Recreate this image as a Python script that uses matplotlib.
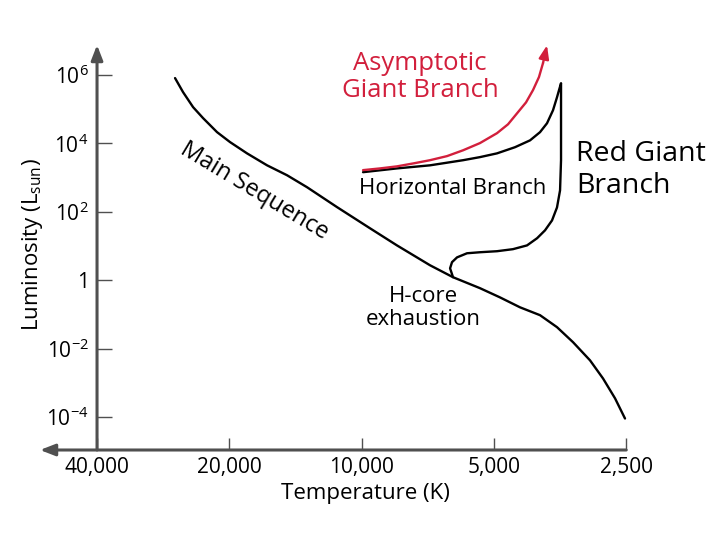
import numpy as np
import matplotlib
matplotlib.use("Agg")
import matplotlib.pyplot as plt

plt.rcParams['font.family'] = ['Open Sans', 'DejaVu Sans']
plt.rcParams['mathtext.fontset'] = 'custom'
plt.rcParams['mathtext.rm'] = 'Open Sans'
plt.rcParams['mathtext.it'] = 'Open Sans'

RED = '#d21f3c'
AXIS = '#505050'

# temperature ticks (K) and luminosity ticks (L_sun, as powers of ten)
temp_ticks = [40000, 20000, 10000, 5000, 2500]
temp_labels = ['40,000', '20,000', '10,000', '5,000', '2,500']
lum_exp = [6, 4, 2, 0, -2, -4]
lum_labels = ['10$^{6}$', '10$^{4}$', '10$^{2}$', '1', '10$^{-2}$', '10$^{-4}$']

# main sequence
ms_temp = [26580, 25490, 24180, 22950, 21330, 19930, 18230, 16410, 14780, 13310,
           11380, 9570, 8310, 6990, 6195, 5380, 4843, 4361, 3927, 3593,
           3303, 3022, 2823, 2651, 2516]
ms_loglum = [5.91, 5.50, 5.06, 4.74, 4.33, 4.04, 3.71, 3.36, 3.07, 2.72,
             2.14, 1.52, 1.02, 0.44, 0.09, -0.23, -0.50, -0.79, -1.02, -1.37,
             -1.81, -2.34, -2.87, -3.45, -4.04]

# hook, red giant branch and horizontal branch
gb_temp = [6195, 6292, 6228, 6066, 5757, 5380, 4920, 4525, 4204, 3988, 3826,
           3688, 3593, 3536, 3518, 3518, 3518, 3518,
           3555, 3593, 3669, 3786, 3927, 4138, 4477, 4920, 5380, 5877, 6990,
           8310, 9926]
gb_loglum = [0.09, 0.35, 0.53, 0.67, 0.79, 0.82, 0.85, 0.91, 1.02, 1.23, 1.46,
             1.75, 2.13, 2.63, 3.51, 4.39, 5.26, 5.76,
             5.56, 5.35, 4.97, 4.59, 4.33, 4.09, 3.89, 3.71, 3.60, 3.51, 3.36,
             3.27, 3.16]

# asymptotic giant branch
agb_temp = [9926, 9081, 8310, 7599, 6990, 6392, 5877, 5380, 4920, 4644, 4430,
            4226, 4074, 3949, 3866, 3786]
agb_loglum = [3.22, 3.27, 3.33, 3.42, 3.51, 3.63, 3.80, 4.01, 4.30, 4.56, 4.88,
              5.20, 5.56, 5.94, 6.35, 6.87]

fig = plt.figure(figsize=(7.2, 5.4), dpi=100)
ax = fig.add_axes([40/720, 90/540, 600/720, 405/540])
ax.set_xscale('log')
ax.set_yscale('log')
xmin, xmax = 53930, 2326
ymin, ymax = 10**-4.96, 10**6.877
ax.set_xlim(xmin, xmax)
ax.set_ylim(ymin, ymax)

for s in ax.spines.values():
    s.set_visible(False)
ax.spines['left'].set_position(('data', 40000))

ax.set_xticks(temp_ticks)
ax.set_xticklabels(temp_labels)
ax.set_yticks([10.0**e for e in lum_exp])
ax.set_yticklabels(lum_labels)
ax.minorticks_off()
ax.tick_params(axis='x', direction='in', length=9, width=1, color=AXIS, pad=5, labelsize=15)
ax.tick_params(axis='y', direction='in', length=11, width=1, color=AXIS, pad=6, labelsize=15)

# axes drawn as arrows
arrow = dict(arrowstyle='-|>,head_length=0.9,head_width=0.35', lw=2.2, color=AXIS,
             shrinkA=0, shrinkB=0)
ax.annotate('', xy=(40000, ymax), xytext=(40000, ymin), arrowprops=arrow,
            annotation_clip=False)
ax.annotate('', xy=(xmin, ymin), xytext=(2500, ymin), arrowprops=arrow,
            annotation_clip=False)

line_kw = dict(lw=1.7, solid_joinstyle='round', solid_capstyle='round')
ax.plot(ms_temp, np.power(10.0, ms_loglum), color='black', **line_kw)
ax.plot(gb_temp, np.power(10.0, gb_loglum), color='black', **line_kw)
ax.plot(agb_temp[:-1], np.power(10.0, agb_loglum[:-1]), color=RED, **line_kw)
ax.annotate('', xy=(agb_temp[-1], 10**agb_loglum[-1]),
            xytext=(agb_temp[-2], 10**agb_loglum[-2]),
            arrowprops=dict(arrowstyle='-|>,head_length=0.8,head_width=0.3',
                            lw=1.7, color=RED, shrinkA=0, shrinkB=0))

fig.text(33/720, 1 - 245/540, 'Luminosity (L$_{\\mathrm{sun}}$)', rotation=90,
         ha='center', va='center', fontsize=16)
fig.text(365/720, 1 - 494/540, 'Temperature (K)', ha='center', va='center', fontsize=16)

fig.text(420/720, 1 - 77/540, 'Asymptotic\nGiant Branch', color=RED, ha='center',
         va='center', fontsize=18.5, linespacing=1.1)
fig.text(576/720, 1 - 170/540, 'Red Giant\nBranch', ha='left', va='center',
         fontsize=20.5, linespacing=1.15)
fig.text(453/720, 1 - 189/540, 'Horizontal Branch', ha='center', va='center', fontsize=16)
fig.text(423/720, 1 - 308/540, 'H-core\nexhaustion', ha='center', va='center',
         fontsize=16, linespacing=1.15)
fig.text(254/720, 1 - 191/540, 'Main Sequence', rotation=-31, ha='center',
         va='center', fontsize=17, rotation_mode='anchor')

fig.savefig('out.png', dpi=100)
